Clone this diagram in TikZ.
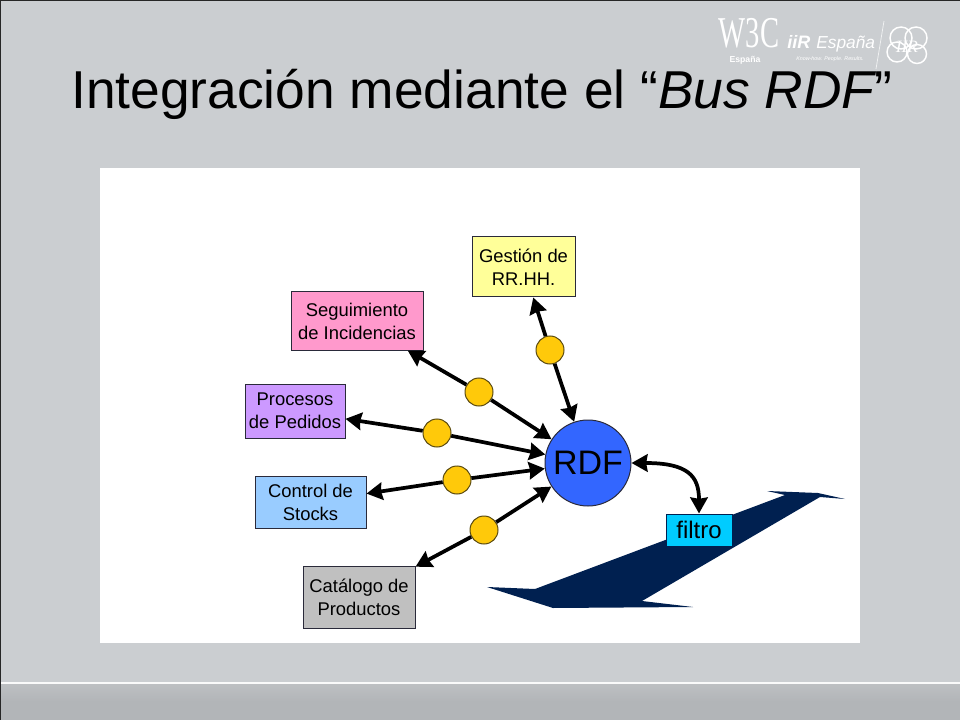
\documentclass[tikz,border=0pt]{standalone}
\usepackage{fontspec}
\usepackage{graphicx}
\setmainfont{Liberation Sans}
\newfontfamily\serifl{Liberation Serif}
\usetikzlibrary{arrows.meta}
\definecolor{slide}{HTML}{CBCED1}
\definecolor{foot}{HTML}{B2B5B8}
\definecolor{edge}{HTML}{2A2A3A}
\definecolor{ribbon}{HTML}{002050}
\definecolor{hubblue}{HTML}{3366FF}
\definecolor{dotfill}{HTML}{FFC90A}
\definecolor{dotedge}{HTML}{5A4A10}
\tikzset{
  x=0.75pt,y=-0.75pt,
  box/.style={draw=edge,line width=0.75pt,inner sep=0pt,align=center,text=black,font=\fontsize{13.8}{17.3}\selectfont},
  hub/.style={circle,draw=edge,line width=0.75pt,fill=hubblue,minimum size=64.5pt,inner sep=0pt,font=\fontsize{25.5}{30}\selectfont},
  dot/.style={circle,draw=dotedge,line width=0.75pt,fill=dotfill,minimum size=21pt,inner sep=0pt},
  conn/.style={line width=2.8pt,draw=black,-{Stealth[length=12pt,width=13pt,inset=1pt]}},
  bothconn/.style={line width=2.8pt,draw=black,{Stealth[length=12pt,width=13pt,inset=1pt]}-{Stealth[length=12pt,width=13pt,inset=1pt]}},
  logo/.style={text=white,inner sep=0pt},
}
\begin{document}
\begin{tikzpicture}
\useasboundingbox (0,0) rectangle (960,720);
% slide background
\fill[slide] (0,0) rectangle (960,720);
\shade[top color=foot!85!white,bottom color=foot,middle color=foot] (0,683) rectangle (960,720);
\fill[white!90!slide] (0,681.5) rectangle (960,683.5);
\fill[black!85] (0,0) rectangle (960,1);
\fill[black!85] (0,0) rectangle (1.2,720);
% white panel
\fill[white] (100,168) rectangle (860,643);
% title
\node[anchor=base west,inner sep=0pt,text=black,font=\fontsize{40}{48}\selectfont] (title) at (71,109)
  {Integración mediante el “\textit{Bus RDF}\kern-2pt”};
% logos
\node[logo,anchor=base,font=\serifl\fontsize{33}{33}\selectfont] (w3c) at (749,48) {\scalebox{0.65}[1]{W3C}};
\node[logo,anchor=base,font=\bfseries\fontsize{6.5}{8}\selectfont] (esp1) at (745,63) {España};
\node[logo,anchor=base west,font=\bfseries\itshape\fontsize{13.5}{15}\selectfont] (iir) at (787,49) {iiR};
\node[logo,anchor=base west,font=\itshape\fontsize{13}{15}\selectfont] (esp2) at (816,49) {España};
\node[logo,font=\itshape\fontsize{4}{5}\selectfont] (tag) at (830,59) {Know-how. People. Results.};
\coordinate (la) at (884,21);
\coordinate (lb) at (876,69);
\draw[white!70!slide,line width=0.6pt] (la) -- (lb);
\begin{scope}[white,line width=1.1pt,fill=none]
  \draw (901,38) circle[radius=11];
  \draw (916,38) circle[radius=11];
  \draw (897,52) circle[radius=10];
  \draw (917,54) circle[radius=9.5];
\end{scope}
\node[logo,font=\serifl\itshape\fontsize{13}{14}\selectfont] (mono) at (907,47) {IIR};
% ribbon
\fill[ribbon] (487,587) -- (535,589) -- (785,495) -- (767,491) -- (818,493) -- (845,499)
  -- (820,497) -- (642,601) -- (693,607) -- (553,608) -- cycle;
% boxes
\node[box,fill={rgb,255:red,255;green,255;blue,153},minimum width=77.25pt,minimum height=45pt] (gestion) at (523.5,267) {Gestión de\\RR.HH.};
\node[box,fill={rgb,255:red,255;green,153;blue,204},minimum width=99pt,minimum height=43.5pt] (seg) at (357,321) {Seguimiento\\de Incidencias};
\node[box,fill={rgb,255:red,204;green,153;blue,255},minimum width=75pt,minimum height=40.5pt] (proc) at (295,411) {Procesos\\de Pedidos};
\node[box,fill={rgb,255:red,153;green,204;blue,255},minimum width=83.25pt,minimum height=39pt] (stock) at (310.5,502) {Control de\\Stocks};
\node[box,fill={rgb,255:red,192;green,192;blue,192},minimum width=84pt,minimum height=46.5pt] (cat) at (359,597) {Catálogo de\\Productos};
% hub and filter
\node[hub] (rdf) at (588,463) {RDF};
\node[box,draw=ribbon,fill={rgb,255:red,0;green,204;blue,255},minimum width=49.5pt,minimum height=24pt,font=\fontsize{18}{20}\selectfont] (filtro) at (699,530) {\raisebox{-1.5pt}{filtro}};
% dots
\node[dot] (d1) at (550,350) {};
\node[dot] (d2) at (479,392) {};
\node[dot] (d3) at (437,433) {};
\node[dot] (d4) at (457,480) {};
\node[dot] (d5) at (484,530) {};
% connectors
\draw[conn] (d1) -- (gestion);
\draw[conn] (d1) -- (rdf);
\draw[conn] (d2) -- (seg);
\draw[conn] (d2) -- (rdf);
\draw[conn] (d3) -- (proc);
\draw[conn] (d3) -- (rdf);
\draw[conn] (d4) -- (stock);
\draw[conn] (d4) -- (rdf);
\draw[conn] (d5) -- (cat);
\draw[conn] (d5) -- (rdf);
\draw[bothconn] (rdf.east) .. controls (688,463) and (699,476) .. (filtro.north);
\end{tikzpicture}
\end{document}
